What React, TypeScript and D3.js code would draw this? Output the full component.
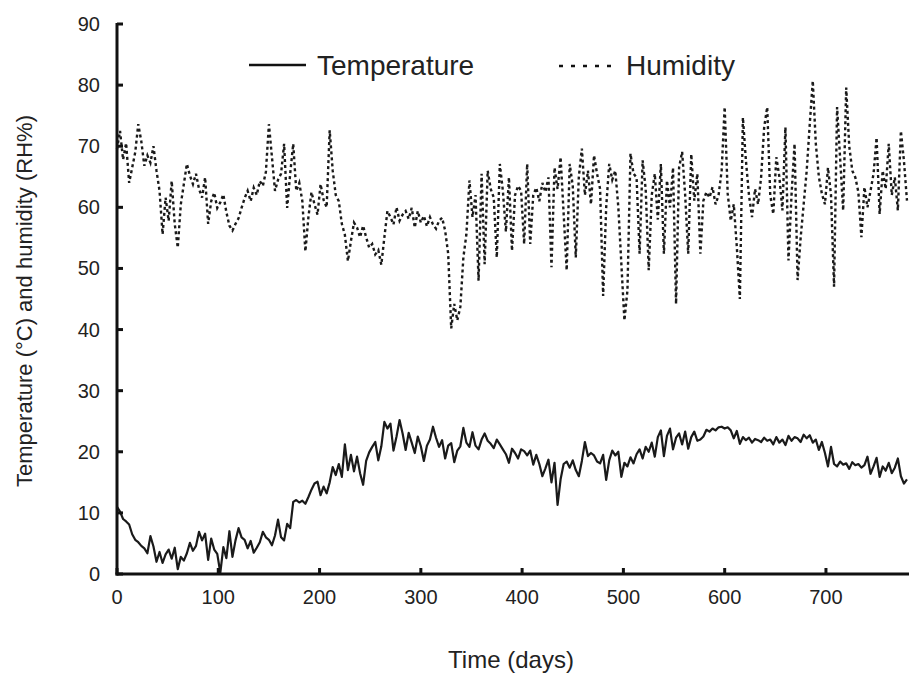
import React from 'react';
import * as d3 from 'd3';

// readings every 3 days, day 0 .. 780
const DAY_STEP = 3;

const temperature = [
  11, 10.2, 9, 8.6, 8.1, 6.5, 5.6, 5.2, 4.6, 4.2,
  3.4, 6.2, 4.5, 2.0, 3.6, 1.8, 3.2, 4.0, 2.5, 4.3,
  0.8, 2.8, 2.2, 3.4, 5.1, 3.8, 4.6, 6.9, 5.5, 6.6,
  2.3, 5.8, 4.0, 3.3, 0.2, 4.4, 2.6, 7.0, 2.8, 5.5,
  7.5, 6.0, 5.6, 4.2, 5.4, 3.5, 4.3, 5.2, 6.9, 6.0,
  5.6, 4.7, 6.3, 8.9, 6.0, 5.5, 8.2, 7.5, 11.8, 12.1,
  11.7, 12.0, 11.5, 12.6, 13.8, 14.8, 15.1, 12.9, 14.3, 13.2,
  15.0, 17.5, 16.2, 18.0, 15.9, 21.2, 17.0, 19.5, 16.8, 19.2,
  16.5, 14.6, 18.5, 19.9, 20.8, 21.6, 18.6, 20.9, 24.9, 23.8,
  24.6, 20.2, 22.5, 25.2, 23.0, 20.3, 23.1, 21.5, 19.8, 22.5,
  20.9, 18.5, 21.0, 22.0, 24.1, 22.3, 20.8, 21.9, 18.9, 21.0,
  21.4, 18.3, 20.2, 20.9, 23.9, 21.5, 20.8, 23.2, 21.0, 20.4,
  22.0, 23.0, 21.8, 21.3, 20.6, 22.0, 21.2, 20.4, 19.6, 18.2,
  20.5, 19.8, 18.9, 20.4, 20.1, 19.4, 20.2, 17.9, 19.5, 18.0,
  16.0, 17.3, 18.7, 15.0, 18.2, 11.3, 15.5, 18.0, 18.4, 17.4,
  18.6, 17.0, 16.0, 18.5, 21.6, 19.3, 19.8, 19.4, 18.4, 18.1,
  19.5, 15.4, 18.6, 20.2, 19.4, 20.0, 15.9, 18.2, 17.6, 19.1,
  18.1, 19.6, 20.4, 18.9, 20.8, 20.0, 21.5, 19.2, 22.4, 23.5,
  19.3, 22.6, 23.8, 20.4, 22.3, 23.0, 21.2, 23.3, 20.5, 22.4,
  23.3, 21.8, 22.0, 22.5, 23.6, 23.3, 23.8, 23.5, 24.0, 24.1,
  23.8, 24.0, 23.5, 22.2, 23.4, 21.3, 22.4, 21.9, 22.3, 21.5,
  22.1, 21.9, 21.6, 22.3, 21.8, 22.0, 21.2, 22.4, 21.5, 22.0,
  21.1, 22.6, 21.8, 22.4, 22.2, 21.6, 22.8, 22.2, 22.7, 21.5,
  22.0, 20.3, 21.6, 19.8, 17.6, 20.8, 18.0, 17.6, 18.4, 17.9,
  18.1, 17.2, 18.3, 17.8, 18.0, 17.4, 17.8, 19.2, 16.4, 17.6,
  19.0, 15.9, 17.6, 16.9, 18.2, 16.5, 17.4, 18.9, 16.0, 14.8,
  15.5,
];

const humidity = [
  69.5, 72.5, 67.8, 70.5, 64.0, 66.5, 69.0, 73.6, 70.8, 66.8,
  68.5, 67.3, 70.0, 66.0, 62.7, 55.6, 61.6, 57.8, 64.3, 57.3,
  53.4, 60.5, 63.8, 67.1, 65.2, 63.8, 65.5, 63.0, 61.6, 64.9,
  57.3, 61.0, 62.4, 59.9, 60.8, 62.1, 59.2, 57.0, 56.2, 57.3,
  58.2, 59.9, 61.5, 62.7, 61.0, 63.2, 62.0, 64.3, 63.5, 65.8,
  73.6, 68.2, 62.7, 64.5, 65.5, 70.4, 59.9, 65.5, 70.4, 62.7,
  64.0, 61.0, 52.8, 58.4, 62.5, 60.5, 58.8, 63.8, 61.2, 60.0,
  72.6, 66.0, 62.0, 61.0, 57.3, 55.5, 51.2, 54.5, 57.5, 56.7,
  55.1, 57.0, 55.1, 53.4, 54.0, 52.3, 53.0, 50.6, 55.1, 59.4,
  58.4, 57.2, 60.0, 57.8, 58.8, 59.4, 58.1, 59.9, 56.7, 59.4,
  57.5, 58.6, 56.9, 58.4, 57.2, 56.5, 57.8, 58.3, 56.2, 52.4,
  40.2, 44.2, 41.5, 43.7, 51.8, 55.6, 64.4, 58.4, 62.0, 48.0,
  65.5, 50.7, 66.0, 63.0, 61.6, 51.8, 67.1, 62.7, 56.0, 64.9,
  52.9, 62.0, 63.5, 62.7, 54.0, 67.1, 54.0, 62.0, 63.2, 61.0,
  64.0, 62.5, 64.9, 50.2, 66.5, 63.0, 68.2, 59.0, 49.7, 67.1,
  63.5, 51.8, 65.0, 69.6, 62.0, 66.0, 60.5, 68.5, 65.5, 63.0,
  45.5, 60.0, 67.1, 64.5, 66.0, 60.0, 50.7, 41.5, 46.4, 68.8,
  65.5, 64.9, 52.4, 67.7, 63.0, 49.7, 62.0, 65.5, 58.0, 67.1,
  52.4, 64.4, 60.0, 66.5, 44.2, 66.5, 69.1, 62.0, 52.4, 68.7,
  61.1, 65.5, 52.4, 61.1, 62.5, 61.6, 63.3, 60.5, 62.0, 66.0,
  76.4, 62.2, 57.8, 60.5, 53.5, 45.0, 74.7, 67.6, 62.0, 58.4,
  63.0, 60.5, 65.0, 73.1, 76.4, 62.0, 58.9, 68.2, 65.0, 59.5,
  73.1, 51.3, 62.0, 70.4, 48.1, 55.0, 60.5, 66.0, 73.6, 80.7,
  70.4, 65.0, 62.2, 60.5, 66.5, 62.0, 47.0, 76.4, 68.0, 59.5,
  79.6, 70.0, 66.0, 64.9, 62.5, 55.1, 63.3, 60.0, 62.7, 65.5,
  71.4, 58.9, 66.0, 63.0, 70.4, 62.0, 64.9, 59.5, 72.5, 67.6,
  61.1,
];

const xTicks = [0, 100, 200, 300, 400, 500, 600, 700];
const yTicks = [0, 10, 20, 30, 40, 50, 60, 70, 80, 90];

const W = 909;
const H = 675;
const FONT = 'Arial, "Liberation Sans", sans-serif';

export default function App() {
  const x = d3.scaleLinear().domain([0, 782]).range([117, 909]);
  const y = d3.scaleLinear().domain([0, 90]).range([574, 24]);

  const line = d3
    .line<number>()
    .x((_, i) => x(i * DAY_STEP))
    .y((d) => y(d));

  return (
    <svg
      width={W}
      height={H}
      style={{ position: 'absolute', left: 0, top: 0, background: '#fff' }}
      fontFamily={FONT}
    >
      <rect width={W} height={H} fill="#fff" />

      {/* data */}
      <path d={line(humidity) ?? ''} fill="none" stroke="#1a1a1a" strokeWidth={2.4} strokeDasharray="3,3" />
      <path d={line(temperature) ?? ''} fill="none" stroke="#1a1a1a" strokeWidth={2.2} strokeLinejoin="round" />

      {/* axes */}
      <line x1={x(0)} x2={x(0)} y1={y(90) - 1} y2={y(0) + 1.5} stroke="#111" strokeWidth={3} />
      <line x1={x(0) - 1.5} x2={W} y1={y(0)} y2={y(0)} stroke="#111" strokeWidth={3} />
      {yTicks.map((t) => (
        <g key={'y' + t}>
          <line x1={x(0)} x2={x(0) + 6} y1={y(t)} y2={y(t)} stroke="#111" strokeWidth={3} />
          <text x={100} y={y(t)} dy="0.35em" textAnchor="end" fontSize={20} fill="#222">
            {t}
          </text>
        </g>
      ))}
      {xTicks.map((t) => (
        <g key={'x' + t}>
          <line x1={x(t)} x2={x(t)} y1={y(0)} y2={y(0) - 6} stroke="#111" strokeWidth={3} />
          <text x={x(t)} y={604} textAnchor="middle" fontSize={20} fill="#222">
            {t}
          </text>
        </g>
      ))}

      {/* axis titles */}
      <text x={511} y={668} textAnchor="middle" fontSize={24} fill="#222">
        Time (days)
      </text>
      <text
        transform="translate(32,301) rotate(-90)"
        textAnchor="middle"
        fontSize={22}
        fill="#222"
      >
        Temperature (°C) and humidity (RH%)
      </text>

      {/* legend */}
      <line x1={249} x2={306} y1={65} y2={65} stroke="#111" strokeWidth={2.5} />
      <text x={317} y={75} fontSize={28} fill="#222">
        Temperature
      </text>
      <line x1={559} x2={616} y1={66} y2={66} stroke="#111" strokeWidth={2.5} strokeDasharray="4,8" />
      <text x={626} y={75} fontSize={28} fill="#222">
        Humidity
      </text>
    </svg>
  );
}
